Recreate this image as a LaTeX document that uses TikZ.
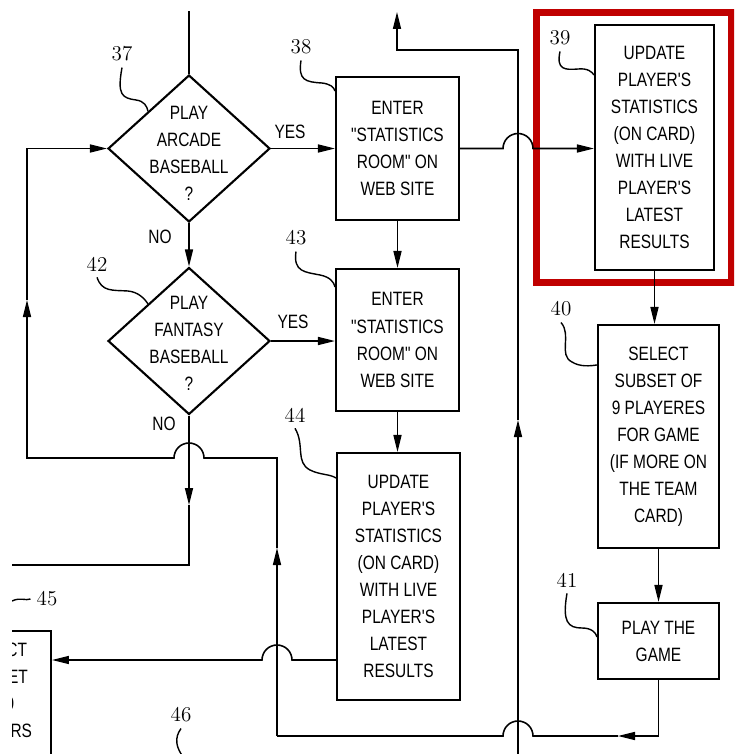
\documentclass[tikz,border=0pt]{standalone}
\usepackage{fontspec}
\newfontfamily\boxfont[FakeStretch=0.8]{Liberation Sans}
\usetikzlibrary{shapes.geometric, arrows.meta, positioning, calc}
\definecolor{framered}{RGB}{192,0,0}

\begin{document}
\begin{tikzpicture}[
    x=0.02cm, y=-0.02cm,
    box/.style={draw, line width=1.2pt, rectangle, minimum width=2.46cm, inner sep=0pt, align=center, font=\boxfont\fontsize{11}{15.4}\selectfont},
    decision/.style={draw, line width=1.2pt, diamond, minimum width=3.24cm, minimum height=2.94cm, inner sep=0pt},
    dtext/.style={align=center, font=\boxfont\fontsize{11}{15.4}\selectfont},
    yn/.style={font=\boxfont\fontsize{11}{13}\selectfont},
    num/.style={font=\fontsize{12}{14}\selectfont},
    conn/.style={line width=0.9pt},
    flow/.style={conn, -{Triangle[length=0.34cm, width=0.16cm]}},
    lead/.style={line width=0.8pt},
    redframe/.style={draw=framered, line width=0.14cm}
]
    \useasboundingbox (0,0) rectangle (734,754);
    \clip (12,0) rectangle (734,754);

    \draw[redframe] (536,12.5) rectangle (731,282);

    \node[decision] (d37) at (189,148.5) {};
    \node[dtext] at ([yshift=-0.09cm]d37.center) {PLAY\\ARCADE\\BASEBALL\\?};
    \node[decision] (d42) at (189,341) {};
    \node[dtext] at ([yshift=-0.04cm]d42.center) {PLAY\\FANTASY\\BASEBALL\\?};
    \node[box, minimum height=2.86cm] (b38) at (397.5,148.5) {ENTER\\"STATISTICS\\ROOM" ON\\WEB SITE};
    \node[box, minimum height=2.84cm] (b43) at (397.5,340) {ENTER\\"STATISTICS\\ROOM" ON\\WEB SITE};
    \node[box, minimum height=4.94cm] (b44) at (398.5,576.5) {UPDATE\\PLAYER'S\\STATISTICS\\(ON CARD)\\WITH LIVE\\PLAYER'S\\LATEST\\RESULTS};
    \node[box, minimum width=2.38cm, minimum height=4.9cm] (b39) at (654.5,147.5) {UPDATE\\PLAYER'S\\STATISTICS\\(ON CARD)\\WITH LIVE\\PLAYER'S\\LATEST\\RESULTS};
    \node[box, minimum width=2.42cm, minimum height=4.46cm] (b40) at (658.5,436.5) {SELECT\\SUBSET OF\\9 PLAYERES\\FOR GAME\\(IF MORE ON\\THE TEAM\\CARD)};
    \node[box, minimum width=2.42cm, minimum height=1.52cm] (b41) at (658.5,641) {PLAY THE\\GAME};
    \node[box, anchor=north east, minimum width=2.16cm, minimum height=3.2cm] (b45) at (52,630) {};
    \node[dtext, anchor=north] at ([yshift=-0.13cm]b45.north) {SELECT\\SUBSET\\OF 9\\PLAYERS};

    \node[num] (n37) at (122,54) {37};
    \node[num] (n38) at (301,47) {38};
    \node[num] (n39) at (560,38) {39};
    \node[num] (n40) at (561,309) {40};
    \node[num] (n41) at (567,580) {41};
    \node[num] (n42) at (97,264) {42};
    \node[num] (n43) at (296,238) {43};
    \node[num] (n44) at (295,415) {44};
    \node[num] (n45) at (47,599) {45};
    \node[num] (n46) at (181,715) {46};

    \draw[lead] (n37.south) .. controls (117,95) and (122,98) .. (136,100) .. controls (144,101) and (147,106) .. (d37.north west);
    \draw[lead] (n38.south) .. controls (298,80) and (305,82) .. (322,83) .. controls (330,84) and (334,87) .. ([yshift=-0.3cm]b38.north west);
    \draw[lead] (n39.south) .. controls (556,70) and (565,70) .. (578,69) .. controls (588,68) and (592,72) .. ([yshift=-1.02cm]b39.north west);
    \draw[lead] (n40.south) .. controls (572,335) and (558,355) .. (572,362) .. controls (580,367) and (590,366) .. ([yshift=-0.82cm]b40.north west);
    \draw[lead] (n41.south) .. controls (562,622) and (568,628) .. (582,628) .. controls (592,628) and (596,633) .. ([yshift=-0.7cm]b41.north west);
    \draw[lead] (n42.south) .. controls (102,292) and (112,290) .. (128,291) .. controls (138,292) and (144,298) .. (d42.north west);
    \draw[lead] (n43.south) .. controls (293,272) and (305,272) .. (320,275) .. controls (330,277) and (334,282) .. ([yshift=-0.38cm]b43.north west);
    \draw[lead] (n44.south) .. controls (305,445) and (295,462) .. (310,470) .. controls (320,475) and (330,474) .. ([yshift=-0.52cm]b44.north west);
    \coordinate (e45) at (12,601);
    \draw[lead] (e45) .. controls (20,597) and (26,601) .. (n45.west);
    \coordinate (e46) at (184,758);
    \draw[lead] (n46.south) .. controls (174,738) and (176,748) .. (e46);

    \coordinate (in37) at (189,11);
    \coordinate (r518) at (518,760);
    \coordinate (a518) at (518,420);
    \coordinate (r518t) at (518,50);
    \coordinate (up38) at (397,12);
    \coordinate (a42) at (189,505);
    \coordinate (out42) at (5,565);
    \coordinate (in45) at (52,660);
    \coordinate (a41) at (618,736);
    \coordinate (v277) at (277,736);
    \coordinate (a277) at (277,548);
    \coordinate (v27) at (27,458);
    \coordinate (a27) at (27,300);

    \draw[conn] (in37) -- (d37.north);
    \draw[flow] (d37.east) -- (b38.west);
    \node[yn] at (290,132) {YES};
    \draw[flow] (d37.south) -- (d42.north);
    \node[yn] at (160,237) {NO};
    \draw[flow] (d42.east) -- (d42.east -| b43.west);
    \node[yn] at (293,322) {YES};
    \draw[flow] (b38.south) -- (b43.north);
    \draw[flow] (b43.south) -- (b43.south |- b44.north);
    \draw[flow] (b39.south) -- (b39.south |- b40.north);
    \draw[flow] (b40.south) -- (b41.north);

    \draw[flow] (r518) -- (a518);
    \draw[flow] (a518) -- (r518t) -| (up38);
    \draw[flow] (b38.east) -- ($(b38.east -| r518)+(-15,0)$) arc[start angle=180, end angle=360, radius=15] -- (b39.west |- b38.east);

    \draw[flow] (d42.south) -- (a42);
    \draw[conn] (a42) -- (a42 |- out42) -- (out42);
    \node[yn] at (164,424) {NO};

    \draw[flow] (b44.west |- in45) -- ($(in45 -| v277)+(15,0)$) arc[start angle=0, end angle=-180, radius=15] -- (in45);

    \draw[flow] (b41.south) |- (a41);
    \draw[conn] (a41) -- ($(a41 -| r518)+(15,0)$) arc[start angle=0, end angle=-180, radius=15] -- (v277);
    \draw[flow] (v277) -- (a277);
    \draw[flow] (a277) -- (a277 |- v27) -- ($(v27 -| d42.south)+(15,0)$) arc[start angle=0, end angle=-180, radius=15] -- (v27) -- (a27);
    \draw[flow] (a27) -- (a27 |- d37.west) -- (d37.west);
\end{tikzpicture}
\end{document}
